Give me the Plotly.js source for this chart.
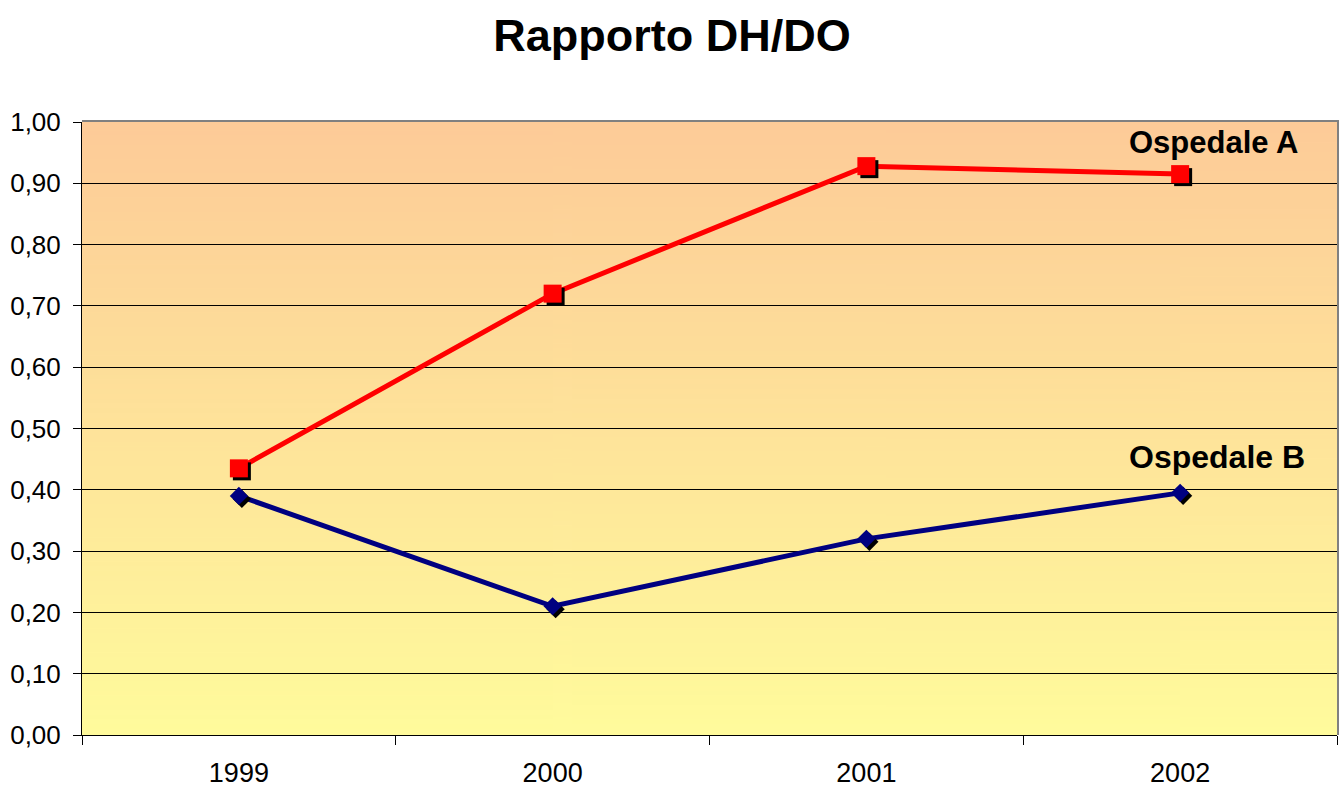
<!DOCTYPE html>
<html>
<head>
<meta charset="utf-8">
<script src="https://cdn.plot.ly/plotly-3.0.1.min.js"></script>
<style>html,body{margin:0;padding:0;background:#fff}#chart{width:1344px;height:791px}</style>
</head>
<body>
<div id="chart"></div>
<script>
// ---- data ----
const years = ['1999', '2000', '2001', '2002'];
const ospedaleA = [0.435, 0.72, 0.928, 0.915];
const ospedaleB = [0.39, 0.21, 0.32, 0.395];
const seriesNames = ['Ospedale A', 'Ospedale B'];
const yTicks = [0, 0.1, 0.2, 0.3, 0.4, 0.5, 0.6, 0.7, 0.8, 0.9, 1.0];

// ---- layout geometry ----
const W = 1344, H = 791;
const mL = 82, mR = 4, mT = 122, mB = 53;
const pw = W - mL - mR, ph = H - mT - mB;
const off = 3; // shadow offset in px
const dxMain = [0, 1 - off / pw], dxShadow = [off / pw, 1];
const dyMain = [off / ph, 1], dyShadow = [0, 1 - off / ph];

// gradient background image
const cv = document.createElement('canvas');
cv.width = 4; cv.height = 256;
const ctx = cv.getContext('2d');
const g = ctx.createLinearGradient(0, 0, 0, 256);
g.addColorStop(0, '#FDCB98');
g.addColorStop(1, '#FFFB9C');
ctx.fillStyle = g; ctx.fillRect(0, 0, 4, 256);
const bg = cv.toDataURL();

const font = 'Liberation Sans, Arial, sans-serif';

const traces = [
  // lines on main axes
  {x: years, y: ospedaleA, xaxis: 'x', yaxis: 'y', mode: 'lines', name: seriesNames[0],
   line: {color: '#FF0000', width: 5}, hoverinfo: 'skip', showlegend: false},
  {x: years, y: ospedaleB, xaxis: 'x', yaxis: 'y', mode: 'lines', name: seriesNames[1],
   line: {color: '#000080', width: 5}, hoverinfo: 'skip', showlegend: false},
  // shadows
  {x: years, y: ospedaleA, xaxis: 'x2', yaxis: 'y2', mode: 'markers',
   marker: {symbol: 'square', size: 18, color: '#000000'}, hoverinfo: 'skip', showlegend: false},
  {x: years, y: ospedaleB, xaxis: 'x2', yaxis: 'y2', mode: 'markers',
   marker: {symbol: 'diamond', size: 14, color: '#000000'}, hoverinfo: 'skip', showlegend: false},
  // markers
  {x: years, y: ospedaleA, xaxis: 'x3', yaxis: 'y3', mode: 'markers', name: seriesNames[0],
   marker: {symbol: 'square', size: 18, color: '#FF0000'}, showlegend: false},
  {x: years, y: ospedaleB, xaxis: 'x3', yaxis: 'y3', mode: 'markers', name: seriesNames[1],
   marker: {symbol: 'diamond', size: 14, color: '#000080'}, showlegend: false}
];

const xr = [-0.5, years.length - 0.5];
const yr = [0, 1];

const layout = {
  width: W, height: H,
  margin: {l: mL, r: mR, t: mT, b: mB, pad: 0},
  paper_bgcolor: '#FFFFFF',
  plot_bgcolor: 'rgba(0,0,0,0)',
  separators: ',.',
  font: {family: font, color: '#000000'},
  title: {text: '<b>Rapporto DH/DO</b>', font: {family: font, size: 45, color: '#000'},
          x: 0.5, xanchor: 'center', y: 1 - 35 / H, yanchor: 'middle', yref: 'container'},
  showlegend: false,
  xaxis: {type: 'category', categoryorder: 'array', categoryarray: years, range: xr, domain: dxMain,
          anchor: 'y', showgrid: false, zeroline: false, showline: true, linecolor: '#000000', linewidth: 1,
          ticks: 'outside', tickson: 'boundaries', ticklen: 9, tickcolor: '#000000', tickwidth: 1,
          tickfont: {family: font, size: 27, color: '#000'}, ticklabelstandoff: 14, fixedrange: true},
  yaxis: {range: yr, domain: dyMain, anchor: 'x', tickmode: 'array', tickvals: yTicks, tickformat: '.2f',
          showgrid: true, gridcolor: '#000000', gridwidth: 1, zeroline: false,
          showline: true, linecolor: '#000000', linewidth: 1,
          ticks: 'outside', ticklen: 8, tickcolor: '#000000', tickwidth: 1,
          tickfont: {family: font, size: 26, color: '#000'}, ticklabelstandoff: 7, fixedrange: true},
  xaxis2: {type: 'category', categoryorder: 'array', categoryarray: years, range: xr, domain: dxShadow,
           anchor: 'y2', visible: false, fixedrange: true},
  yaxis2: {range: yr, domain: dyShadow, anchor: 'x2', visible: false, fixedrange: true},
  xaxis3: {type: 'category', categoryorder: 'array', categoryarray: years, range: xr, domain: dxMain,
           anchor: 'y3', side: 'top', showgrid: false, zeroline: false, showticklabels: false, ticks: '',
           showline: true, linecolor: '#808080', linewidth: 2, fixedrange: true},
  yaxis3: {range: yr, domain: dyMain, anchor: 'x3', side: 'right', showgrid: false, zeroline: false,
           showticklabels: false, ticks: '', showline: true, linecolor: '#808080', linewidth: 2, fixedrange: true},
  images: [{source: bg, xref: 'paper', yref: 'paper', x: 0, y: 1, sizex: dxMain[1], sizey: 1 - dyMain[0],
            xanchor: 'left', yanchor: 'top', sizing: 'stretch', layer: 'below'}],
  annotations: [
    {text: '<b>' + seriesNames[0] + '</b>', xref: 'paper', yref: 'y', x: (1127 - mL) / pw, y: 0.966,
     xanchor: 'left', yanchor: 'middle', showarrow: false, font: {family: font, size: 31, color: '#000'}},
    {text: '<b>' + seriesNames[1] + '</b>', xref: 'paper', yref: 'y', x: (1127 - mL) / pw, y: 0.454,
     xanchor: 'left', yanchor: 'middle', showarrow: false, font: {family: font, size: 32, color: '#000'}}
  ]
};

Plotly.newPlot('chart', traces, layout, {displayModeBar: false, staticPlot: true});
</script>
</body>
</html>
